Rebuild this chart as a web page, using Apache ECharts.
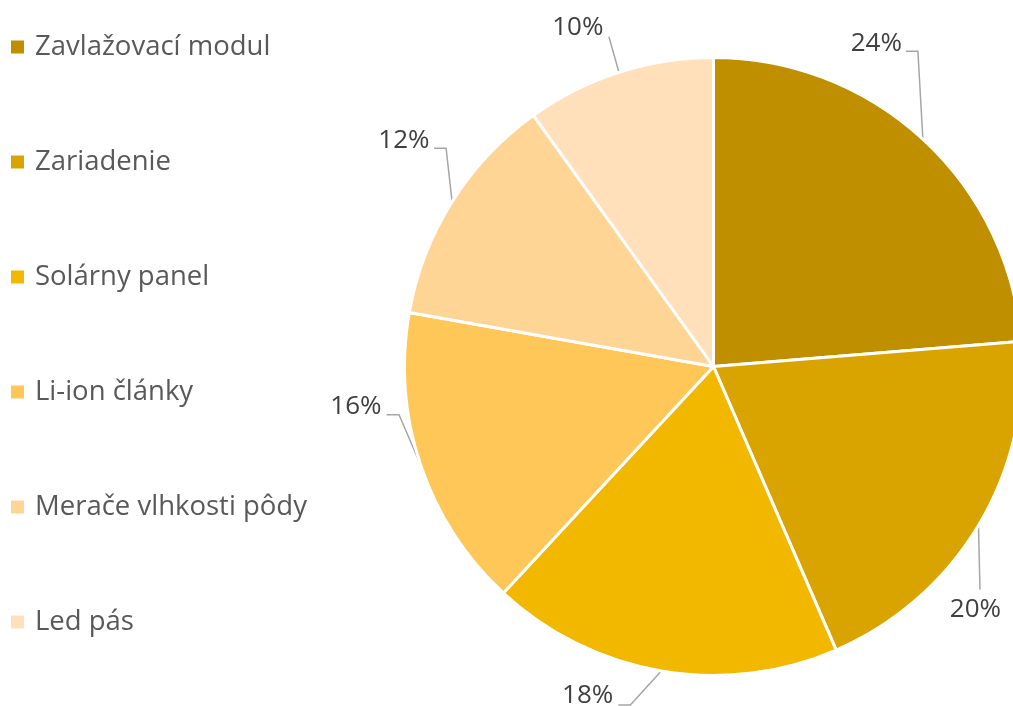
<!DOCTYPE html>
<html><head><meta charset="utf-8">
<script src="https://cdn.jsdelivr.net/npm/echarts@6/dist/echarts.min.js"></script>
<style>html,body{margin:0;padding:0;background:#fff}#c{width:1013px;height:706px}</style>
</head><body><div id="c"></div>
<script>
const categories = ['Zavlažovací modul', 'Zariadenie', 'Solárny panel', 'Li-ion články', 'Merače vlhkosti pôdy', 'Led pás'];
const shares = [23.7, 19.8, 18.4, 15.9, 12.3, 9.9];
const sliceColors = ['#BF8F00', '#DAA400', '#F2B800', '#FFC658', '#FFD596', '#FFE0BB'];

// label guide layout: offsets (px) from the slice's outer-edge midpoint
const labelGuides = [
  { elbow: [-5, -88], end: [-17, -88], text: [-21, -96], align: 'right' },
  { elbow: [1.5, 64], end: [1.5, 64], text: [-3, 84], align: 'center' },
  { elbow: [-31, 34], end: [-43, 34], text: [-48, 25], align: 'right' },
  { elbow: [-21.5, -50], end: [-34, -50], text: [-39, -58], align: 'right' },
  { elbow: [-6, -53.5], end: [-18, -53.5], text: [-22.5, -61.5], align: 'right' },
  { elbow: [-10, -35.5], end: [-10, -35.5], text: [-15.5, -45], align: 'right' }
];
const CX = 713.5, CY = 366.5, R = 309;

const total = shares.reduce((a, b) => a + b, 0);
const mids = [];
let acc = 0;
shares.forEach(v => { mids.push((acc + v / 2) / total * 2 * Math.PI); acc += v; });

const chart = echarts.init(document.getElementById('c'), null, { renderer: 'canvas' });
chart.setOption({
  animation: false,
  color: sliceColors,
  legend: {
    orient: 'vertical',
    left: 6,
    top: 27,
    padding: 5,
    itemGap: 85,
    itemWidth: 13,
    itemHeight: 13,
    icon: 'rect',
    selectedMode: false,
    itemStyle: { borderWidth: 0 },
    data: categories,
    textStyle: { fontFamily: 'Open Sans', fontSize: 27.5, color: '#595959', lineHeight: 30, padding: [0, 0, 0, 6] }
  },
  series: [{
    type: 'pie',
    center: [CX, CY],
    radius: R,
    startAngle: 90,
    clockwise: true,
    avoidLabelOverlap: false,
    itemStyle: { borderColor: '#fff', borderWidth: 3 },
    emphasis: { disabled: true },
    label: {
      show: true,
      position: 'outside',
      width: 90,
      overflow: 'none',
      fontFamily: 'Open Sans',
      fontSize: 26,
      color: '#404040',
      formatter: p => Math.round(p.percent) + '%'
    },
    labelLine: { show: true, length: 20, length2: 10, lineStyle: { color: '#A6A6A6', width: 1.5 } },
    labelLayout: function (p) {
      const i = p.dataIndex;
      const g = labelGuides[i];
      const a = mids[i];
      const ex = CX + R * Math.sin(a), ey = CY - R * Math.cos(a);
      return {
        x: ex + g.text[0],
        y: ey + g.text[1],
        align: g.align,
        verticalAlign: 'middle',
        labelLinePoints: [[ex, ey], [ex + g.elbow[0], ey + g.elbow[1]], [ex + g.end[0], ey + g.end[1]]]
      };
    },
    data: categories.map((name, i) => ({ name: name, value: shares[i] }))
  }]
});
</script>
</body></html>
